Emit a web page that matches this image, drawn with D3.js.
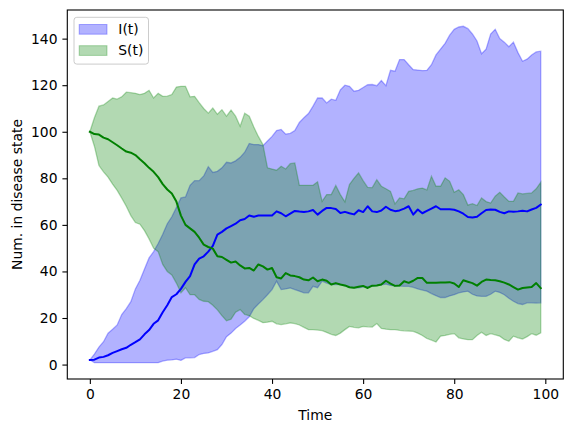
<!DOCTYPE html>
<html>
<head>
<meta charset="utf-8">
<script src="https://cdn.jsdelivr.net/npm/d3@7"></script>
<style>
  body { margin: 0; background: #fff; }
  text { font-family: "DejaVu Sans", sans-serif; fill: #000; }
</style>
</head>
<body>
<div id="chart"></div>
<script>
// time steps 0..99
var time = d3.range(0, 100);

var xTicks = [0, 20, 40, 60, 80, 100];
var yTicks = [0, 20, 40, 60, 80, 100, 120, 140];

// infected: mean, lower and upper band
var iMean = [
  2, 2.1, 3, 3.3, 4, 5, 5.8, 6.6, 7.2, 8.5,
  9.6, 10.8, 13, 14.8, 17.5, 19, 22.5, 25.5, 29, 30.2,
  32.5, 35.5, 38, 43, 45.5, 46.5, 48.5, 51, 55.8, 57,
  58.5, 59.5, 60.5, 62, 62.5, 64, 63.5, 64, 64, 64,
  64, 65.8, 65, 63.7, 64.8, 66, 65.7, 65.5, 65.8, 66.4,
  64.4, 66, 67.3, 67.2, 66.8, 65.1, 65.6, 65, 64.5, 66.3,
  65.5, 68, 65.8, 65.5, 66.2, 67.8, 66.5, 65.9, 66.2, 67,
  68, 64.4, 66.6, 65, 66, 67, 68, 66.7, 66.7, 66.7,
  66.5, 65.8, 64.8, 63.4, 63.2, 63.5, 65, 66.4, 66.6, 66.5,
  65.6, 65, 65.8, 65.6, 65.8, 66.1, 65.8, 66.6, 67.3, 68.7
];
var iLow = [
  2, 0.8, 0.8, 0.8, 0.8, 0.8, 0.8, 0.8, 0.8, 0.8,
  0.8, 0.8, 0.8, 0.8, 0.8, 0.8, 1.5, 1.9, 2, 2.3,
  1.8, 2.9, 2.9, 3, 4.3, 4.8, 5, 5.7, 6.4, 8.6,
  12, 13.5, 15.5, 17, 18.6, 20.5, 24, 26, 27.9, 30,
  32.2, 35.8, 32.2, 32.5, 32.9, 32.2, 31.5, 30.8, 30.8, 33.6,
  33, 35.8, 35, 34.4, 34.4, 34.4, 33.8, 33.2, 32.9, 33,
  33.3, 33.5, 33.7, 33.9, 34.2, 34.6, 34, 33.8, 33.7, 33.6,
  33.6, 33.2, 32.5, 32, 31.5, 30.5, 29.6, 28.8, 28.8, 29.5,
  30, 30.8, 31.2, 31.5, 30.2, 29.5, 29.3, 29.3, 30.2, 31.5,
  31, 30, 28.5, 27.2, 26.2, 25.8, 26.5, 26.5, 26.4, 26.5
];
var iHigh = [
  2, 4.5, 7.5, 9.8, 13.5, 15.2, 17, 21.5, 24, 27,
  32.5, 36.2, 41, 45.8, 48.5, 52, 56, 60.5, 63.5, 67.5,
  71.6, 72, 77, 79, 79, 81, 85, 82.5, 83, 84.5,
  86.9, 86.6, 87.5, 89, 91.2, 95, 94.5, 94.5, 94, 96,
  98, 100.5, 101, 99, 99.3, 100.5, 104, 106, 107.8, 111,
  114.5, 114.5, 112.4, 114, 113.5, 118, 120, 119.5, 117.4, 117.8,
  119, 120.2, 120.3, 119.8, 122, 119.8, 126.4, 126, 131, 131,
  128.8, 126.7, 126.5, 126.3, 126.4, 128.8, 133, 135.5, 138, 141.5,
  144, 145, 145.3, 144.3, 142, 139, 133.5, 135.5, 142, 144,
  140, 138.5, 136.5, 138.5, 134, 130.3, 131.2, 133, 134.3, 134.6
];

// susceptible: mean, lower and upper band
var sMean = [
  100, 99, 98.8, 97.5, 96.8, 95.5, 94.2, 92.8, 91.5, 91,
  90, 88.2, 86.5, 84.5, 82.8, 80.5, 77.5, 75.2, 73.5, 70,
  64, 60, 58.5, 57, 54.5, 51.5, 50.5, 49.8, 46.5, 46.2,
  45, 43.8, 44.3, 42.6, 41.3, 41.5, 40.4, 43, 42.2, 40.8,
  41.5, 37.5, 37, 39.3, 38.3, 38, 37.5, 36.5, 36.2, 37.4,
  35.8, 36.5, 36, 34.4, 35, 34.4, 34, 33.2, 33, 33.4,
  33.8, 32.9, 33.9, 34, 34.4, 36, 34.8, 33.8, 34, 35.8,
  35.1, 36, 37.2, 37.2, 35.1, 35.1, 35.1, 35.2, 35.3, 35.4,
  34.8, 33.3, 36.2, 35.6, 35, 33.9, 35.5, 36.5, 36.3, 36.2,
  35.8, 35.2, 34.4, 33.3, 32.2, 32.9, 33.1, 33.3, 35, 32.8
];
var sLow = [
  100, 93.8, 85.5, 82.8, 80.5, 77.5, 74.8, 71.5, 68, 64,
  61, 60.3, 57.5, 54, 50, 48.5, 43, 40, 38.5, 35,
  30.8, 33, 30, 30, 28, 27.2, 27, 25.5, 23.5, 21,
  18.8, 19.5, 22.5, 23.6, 21.5, 21, 19.8, 19, 18, 18.2,
  18.6, 17.5, 17.2, 17.5, 17.9, 17.6, 17, 16, 15, 15,
  14.8, 14.6, 13.8, 13, 12.5, 13.5, 15, 16.4, 16, 15.8,
  16.4, 16.2, 16.1, 17.6, 15.5, 15.2, 15, 15, 14.7, 14.5,
  14.4, 14.3, 13.5, 12.5, 11.2, 10.5, 9.7, 12.2, 12.5, 13,
  13.3, 11.5, 11, 10.7, 10.7, 12.5, 13.9, 12.5, 13.3, 12.8,
  12.2, 10.8, 10, 12.2, 11.5, 11, 12, 13.3, 12.6, 13.6
];
var sHigh = [
  100, 106, 111, 111.5, 113, 114.5, 114, 115, 117, 116.8,
  116.5, 116, 116.5, 117.8, 114.5, 116.5, 115.2, 115.3, 116, 119.2,
  119.5, 119.5, 115, 115.2, 112.5, 110, 108, 110.2, 107.5, 109.5,
  106.7, 109.3, 106.7, 102.4, 108, 106.7, 102, 98, 94.5, 84.5,
  84, 83.5, 85.2, 84, 86.3, 86.6, 77, 77, 77, 77,
  78.5, 70.1, 73, 73, 76.9, 73, 69.9, 77.3, 80, 82.3,
  79, 76.1, 76, 79.4, 76.6, 75.5, 74.4, 69, 71.6, 71.2,
  74.4, 74.8, 75.5, 75.8, 75, 80.9, 76.6, 76.6, 80.2, 78.7,
  74, 75.1, 73, 68.5, 69.1, 68.3, 71.6, 70, 69.4, 72.3,
  74, 72, 70.1, 70.1, 73.7, 73.3, 73.5, 73.7, 75.5, 78.3
];

var seriesNames = ["I(t)", "S(t)"];
var seriesColors = ["blue", "green"];

var width = 572, height = 433;
var margin = {top: 10, right: 8.7, bottom: 54, left: 67.3};
var fontPx = 13.89;

var svg = d3.select("#chart").append("svg")
  .attr("width", width)
  .attr("height", height);

var x = d3.scaleLinear()
  .domain([-4.95, 103.95])
  .range([margin.left, width - margin.right]);

var y = d3.scaleLinear()
  .domain([-6.2, 152.3])
  .range([height - margin.bottom, margin.top]);

var bands = [
  {lo: iLow, hi: iHigh, mean: iMean, color: seriesColors[0]},
  {lo: sLow, hi: sHigh, mean: sMean, color: seriesColors[1]}
];

var plot = svg.append("g");

// shaded bands (I first, then S on top)
bands.forEach(function(b) {
  var area = d3.area()
    .x(function(t) { return x(t); })
    .y0(function(t) { return y(b.lo[t]); })
    .y1(function(t) { return y(b.hi[t]); });
  plot.append("path")
    .datum(time)
    .attr("d", area)
    .attr("fill", b.color)
    .attr("fill-opacity", 0.3)
    .attr("stroke", b.color)
    .attr("stroke-opacity", 0.3)
    .attr("stroke-width", 1.3);
});

// mean lines
bands.forEach(function(b) {
  var line = d3.line()
    .x(function(t) { return x(t); })
    .y(function(t) { return y(b.mean[t]); });
  plot.append("path")
    .datum(time)
    .attr("d", line)
    .attr("fill", "none")
    .attr("stroke", b.color)
    .attr("stroke-width", 2)
    .attr("stroke-linejoin", "round")
    .attr("stroke-linecap", "square");
});

// axes
var xAxis = svg.append("g")
  .attr("transform", "translate(0," + (height - margin.bottom) + ")")
  .call(d3.axisBottom(x).tickValues(xTicks).tickSize(4.9).tickPadding(4.9));
var yAxis = svg.append("g")
  .attr("transform", "translate(" + margin.left + ",0)")
  .call(d3.axisLeft(y).tickValues(yTicks).tickSize(4.9).tickPadding(4.9));

[xAxis, yAxis].forEach(function(a) {
  a.select(".domain").remove();
  a.selectAll(".tick line").attr("stroke", "#000").attr("stroke-width", 1.1);
  a.selectAll(".tick text")
    .style("font-family", "'DejaVu Sans', sans-serif")
    .style("font-size", fontPx + "px")
    .attr("fill", "#000");
});

// frame
svg.append("rect")
  .attr("x", margin.left)
  .attr("y", margin.top)
  .attr("width", width - margin.left - margin.right)
  .attr("height", height - margin.top - margin.bottom)
  .attr("fill", "none")
  .attr("stroke", "#000")
  .attr("stroke-width", 1.1);

// axis labels
svg.append("text")
  .attr("x", (margin.left + width - margin.right) / 2)
  .attr("y", 420)
  .attr("text-anchor", "middle")
  .style("font-size", fontPx + "px")
  .text("Time");

svg.append("text")
  .attr("transform", "translate(22," + ((margin.top + height - margin.bottom) / 2) + ") rotate(-90)")
  .attr("text-anchor", "middle")
  .style("font-size", fontPx + "px")
  .text("Num. in disease state");

// legend
var legend = svg.append("g").attr("transform", "translate(74,17.3)");
legend.append("rect")
  .attr("x", 0).attr("y", 0)
  .attr("width", 74.5).attr("height", 46.8)
  .attr("rx", 2.8)
  .attr("fill", "#fff").attr("fill-opacity", 0.8)
  .attr("stroke", "#cccccc").attr("stroke-width", 1);

seriesNames.forEach(function(name, i) {
  var row = legend.append("g").attr("transform", "translate(0," + (i * 21.2) + ")");
  row.append("rect")
    .attr("x", 5.2).attr("y", 7.2)
    .attr("width", 27.8).attr("height", 9.7)
    .attr("fill", seriesColors[i]).attr("fill-opacity", 0.3)
    .attr("stroke", seriesColors[i]).attr("stroke-opacity", 0.3);
  row.append("text")
    .attr("x", 44.3).attr("y", 16.6)
    .style("font-size", fontPx + "px")
    .text(name);
});
</script>
</body>
</html>
